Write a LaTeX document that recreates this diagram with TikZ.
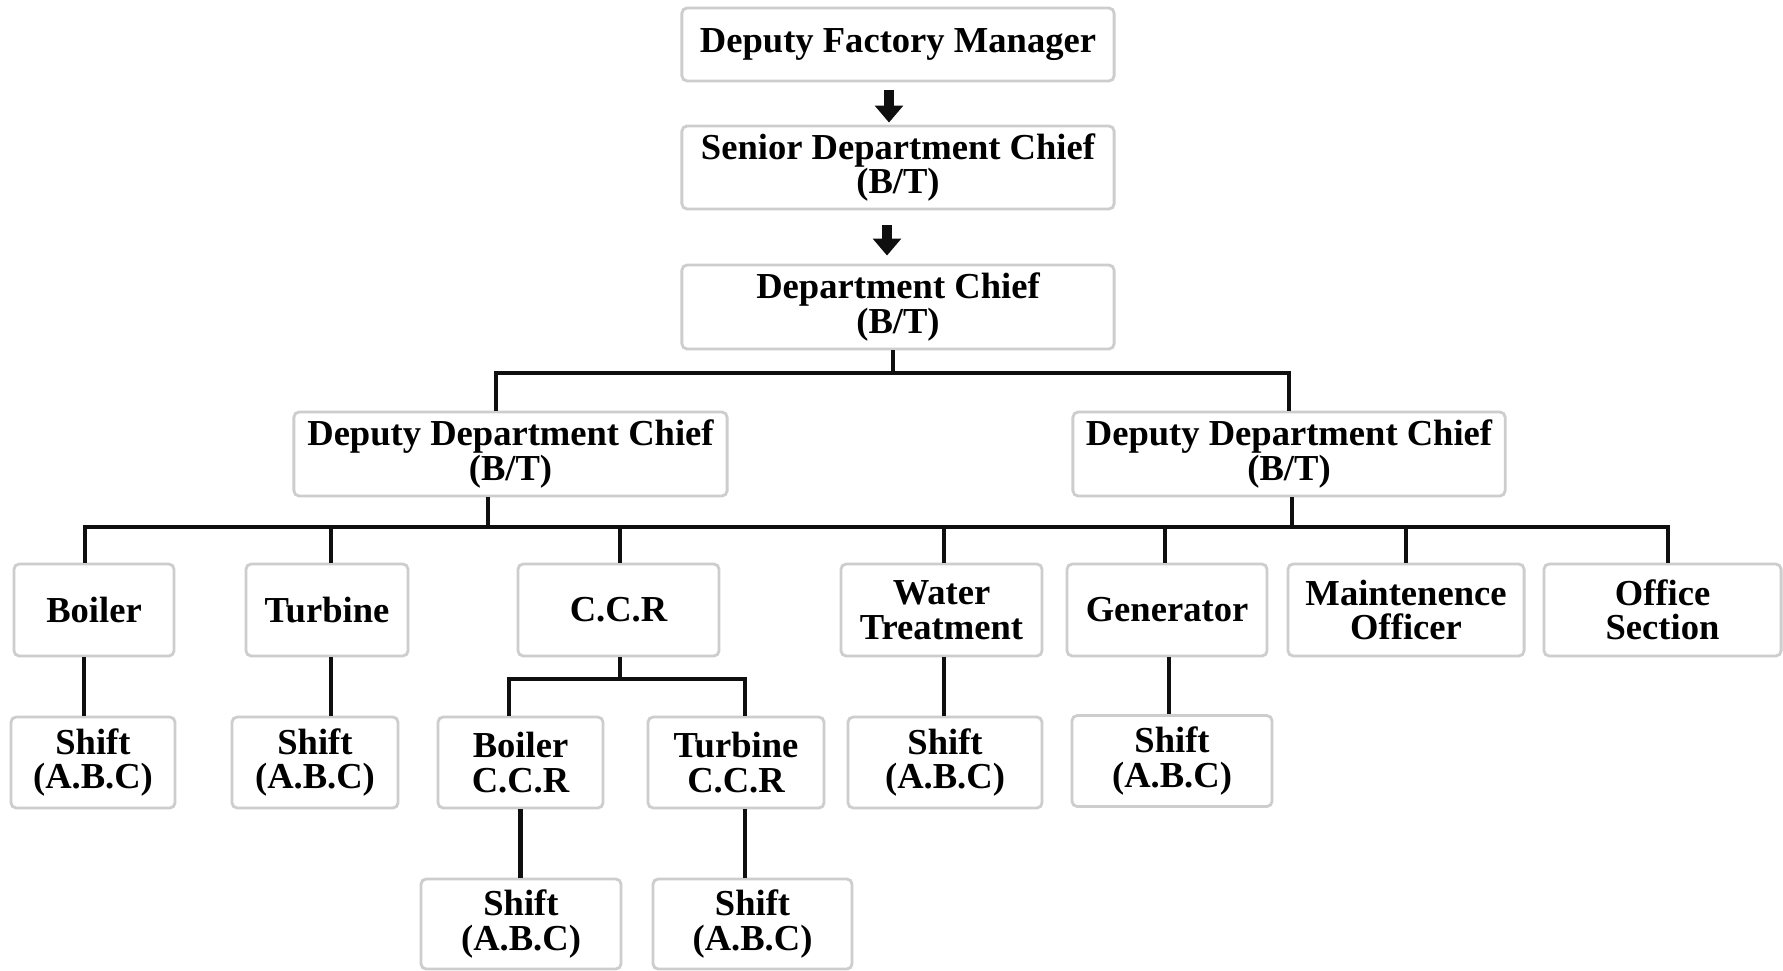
\documentclass[tikz,border=0pt]{standalone}
\usepackage{fontspec}
\setmainfont{Liberation Serif}
\usepackage{xcolor}
\usetikzlibrary{arrows.meta,positioning,calc}
\definecolor{boxgray}{RGB}{205, 205, 205}
\definecolor{linkblack}{RGB}{15, 15, 15}

\begin{document}
\begin{tikzpicture}[
  x=0.01cm, y=-0.01cm,
  box/.style={rectangle, draw=boxgray, fill=white, rounded corners=1.5pt, line width=0.8pt, inner sep=0pt, align=center, font=\fontsize{10.4}{9.8}\selectfont\bfseries},
  conn/.style={draw=linkblack, line width=1.15pt},
  bigarrow/.style={-{Triangle[length=4.8pt,width=7.8pt]}, line width=3pt, color=linkblack}
]
\useasboundingbox (0,0) rectangle (1783,970);

% Top chain
\node[box, minimum width=4.32cm, minimum height=0.73cm] (dfm) at (898, 44.5) {Deputy Factory Manager};
\node[box, minimum width=4.32cm, minimum height=0.83cm] (sdc) at (898, 167.5) {Senior Department Chief\\(B/T)};
\node[box, minimum width=4.32cm, minimum height=0.84cm] (dc) at (898, 307) {Department Chief\\(B/T)};

% Deputies
\node[box, minimum width=4.33cm, minimum height=0.84cm] (ddcL) at (510.5, 454) {Deputy Department Chief\\(B/T)};
\node[box, minimum width=4.32cm, minimum height=0.84cm] (ddcR) at (1289, 454) {Deputy Department Chief\\(B/T)};

% Row 2: sections (y = 610)
\node[box, minimum width=1.60cm, minimum height=0.92cm] (boiler) at (94, 610) {Boiler};
\node[box, minimum width=1.62cm, minimum height=0.92cm] (turbine) at (327, 610) {Turbine};
\node[box, minimum width=2.01cm, minimum height=0.92cm] (ccr) at (618.5, 610) {C.C.R};
\node[box, minimum width=2.01cm, minimum height=0.92cm] (water) at (941.5, 610) {Water\\Treatment};
\node[box, minimum width=2.00cm, minimum height=0.92cm] (gen) at (1167, 610) {Generator};
\node[box, minimum width=2.36cm, minimum height=0.92cm] (maint) at (1406, 610) {Maintenence\\Officer};
\node[box, minimum width=2.37cm, minimum height=0.92cm] (office) at (1662.5, 610) {Office\\Section};

% Row 3 (y = 762)
\node[box, minimum width=1.64cm, minimum height=0.91cm] (shiftB) at (93, 762.5) {Shift\\(A.B.C)};
\node[box, minimum width=1.66cm, minimum height=0.91cm] (shiftT) at (315, 762.5) {Shift\\(A.B.C)};
\node[box, minimum width=1.65cm, minimum height=0.91cm] (bccr) at (520.5, 762.5) {Boiler\\C.C.R};
\node[box, minimum width=1.76cm, minimum height=0.91cm] (tccr) at (736, 762.5) {Turbine\\C.C.R};
\node[box, minimum width=1.94cm, minimum height=0.91cm] (shiftW) at (945, 762.5) {Shift\\(A.B.C)};
\node[box, minimum width=2.00cm, minimum height=0.91cm] (shiftG) at (1172, 761) {Shift\\(A.B.C)};

% Row 4 (y = 924)
\node[box, minimum width=2.00cm, minimum height=0.90cm] (shiftBC) at (521, 924) {Shift\\(A.B.C)};
\node[box, minimum width=1.99cm, minimum height=0.90cm] (shiftTC) at (752.5, 924) {Shift\\(A.B.C)};

% Arrows
\draw[bigarrow, shorten <=0.08cm, shorten >=0.02cm] ([xshift=-0.09cm]dfm.south) -- ([xshift=-0.09cm]sdc.north);
\draw[bigarrow, shorten <=0.15cm, shorten >=0.08cm] ([xshift=-0.11cm]sdc.south) -- ([xshift=-0.11cm]dc.north);

% Bus lines
\coordinate (bus1) at (0, 373);
\coordinate (bus2) at (0, 527);
\coordinate (bus3) at (0, 679);

\draw[conn] ([xshift=-0.05cm]dc.south) -- ([xshift=-0.05cm]dc.south |- bus1);
\draw[conn] ([xshift=-0.145cm]ddcL.north) -- ([xshift=-0.145cm]ddcL.north |- bus1) -- (ddcR.north |- bus1) -- (ddcR.north);

\draw[conn] ([xshift=-0.225cm]ddcL.south) -- ([xshift=-0.225cm]ddcL.south |- bus2);
\draw[conn] ([xshift=0.03cm]ddcR.south) -- ([xshift=0.03cm]ddcR.south |- bus2);
\draw[conn] ([xshift=-0.09cm]boiler.north) -- ([xshift=-0.09cm]boiler.north |- bus2) -- ([xshift=0.055cm]office.north |- bus2) -- ([xshift=0.055cm]office.north);
\foreach \n/\s in {turbine/0.04, ccr/0.015, water/0.025, gen/-0.02, maint/0}
  \draw[conn] ([xshift=\s cm]\n.north) -- ([xshift=\s cm]\n.north |- bus2);

\draw[conn] ([xshift=0.015cm]ccr.south) -- ([xshift=0.015cm]ccr.south |- bus3);
\draw[conn] ([xshift=-0.115cm]bccr.north) -- ([xshift=-0.115cm]bccr.north |- bus3) -- ([xshift=0.09cm]tccr.north |- bus3) -- ([xshift=0.09cm]tccr.north);

% Shift links
\draw[conn] ([xshift=-0.1cm]boiler.south) -- ([xshift=-0.1cm]boiler.south |- shiftB.north);
\draw[conn] ([xshift=0.04cm]turbine.south) -- ([xshift=0.04cm]turbine.south |- shiftT.north);
\draw[conn] ([xshift=0.025cm]water.south) -- ([xshift=0.025cm]water.south |- shiftW.north);
\draw[conn] ([xshift=0.02cm]gen.south) -- ([xshift=0.02cm]gen.south |- shiftG.north);
\draw[conn] (bccr.south) -- (bccr.south |- shiftBC.north);
\draw[conn] ([xshift=0.09cm]tccr.south) -- ([xshift=0.09cm]tccr.south |- shiftTC.north);

\end{tikzpicture}
\end{document}
